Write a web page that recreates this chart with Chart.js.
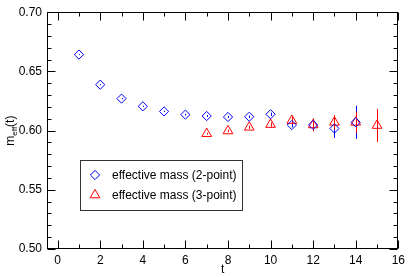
<!DOCTYPE html>
<html>
<head>
<meta charset="utf-8">
<script src="https://cdn.jsdelivr.net/npm/chart.js@4/dist/chart.umd.min.js"></script>
<style>
html,body{margin:0;padding:0;background:#fff;}
canvas{display:block;}
</style>
</head>
<body>
<canvas id="c" width="409" height="277"></canvas>
<script>
// ---- data ----
const t2 = [1, 2, 3, 4, 5, 6, 7, 8, 9, 10, 11, 12, 13, 14];
const m2 = [0.6642, 0.6388, 0.6270, 0.6205, 0.6162, 0.6135, 0.6123, 0.6115, 0.6117, 0.6138, 0.6047, 0.6048, 0.6018, 0.6070];
const e2 = [0.0004, 0.0004, 0.0005, 0.0005, 0.0006, 0.0007, 0.0008, 0.0009, 0.0011, 0.0014, 0.0020, 0.0050, 0.0080, 0.0140];
const t3 = [7, 8, 9, 10, 11, 12, 13, 14, 15];
const m3 = [0.5974, 0.5997, 0.6028, 0.6051, 0.6085, 0.6048, 0.6070, 0.6070, 0.6043];
const e3 = [0.0008, 0.0010, 0.0014, 0.0018, 0.0030, 0.0055, 0.0060, 0.0090, 0.0140];
const label2 = 'effective mass (2-point)';
const label3 = 'effective mass (3-point)';
const xTicks = [0, 2, 4, 6, 8, 10, 12, 14, 16];
const yTicks = [0.50, 0.55, 0.60, 0.65, 0.70];

const BLUE = '#0000ff';
const RED = '#ff0000';
const FONT = 'Liberation Sans, Arial, Helvetica, sans-serif';

function pts(xs, ys, es) { return xs.map((x, i) => ({x: x, y: ys[i], e: es[i]})); }

const frameTicks = {
  id: 'frameTicks',
  afterDatasetsDraw(chart) {
    const {ctx, chartArea: a, scales: {x, y}} = chart;
    ctx.save();
    ctx.strokeStyle = '#000';
    ctx.lineWidth = 1;
    const L = Math.round(a.left) + 0.5, R = Math.round(a.right) - 0.5;
    const T = Math.round(a.top) + 0.5, B = Math.round(a.bottom) - 0.5;
    ctx.strokeRect(L, T, R - L, B - T);
    ctx.beginPath();
    for (let v = 0; v <= 16; v += 1) {
      const px = Math.round(x.getPixelForValue(v)) + 0.5;
      const len = (v % 2 === 0) ? 8 : 4;
      ctx.moveTo(px, B); ctx.lineTo(px, B - len);
      ctx.moveTo(px, T); ctx.lineTo(px, T + len);
    }
    for (let k = 0; k <= 20; k++) {
      const v = 0.5 + k * 0.01;
      const py = Math.round(y.getPixelForValue(v)) + 0.5;
      const len = (k % 5 === 0) ? 8 : 4;
      ctx.moveTo(L, py); ctx.lineTo(L + len, py);
      ctx.moveTo(R, py); ctx.lineTo(R - len, py);
    }
    ctx.stroke();
    ctx.restore();
  }
};

const errorBars = {
  id: 'errorBars',
  beforeDatasetsDraw(chart) {
    const {ctx, chartArea: a, scales: {x, y}} = chart;
    ctx.save();
    ctx.beginPath();
    ctx.rect(a.left, a.top, a.right - a.left, a.bottom - a.top);
    ctx.clip();
    ctx.lineWidth = 1;
    chart.data.datasets.forEach((ds) => {
      ctx.strokeStyle = ds.borderColor;
      ctx.beginPath();
      ds.data.forEach((p) => {
        const px = Math.round(x.getPixelForValue(p.x)) + 0.5;
        ctx.moveTo(px, y.getPixelForValue(p.y + p.e));
        ctx.lineTo(px, y.getPixelForValue(p.y - p.e));
      });
      ctx.stroke();
    });
    ctx.restore();
  }
};

const yTitle = {
  id: 'yTitle',
  afterDraw(chart) {
    const {ctx, chartArea: a} = chart;
    ctx.save();
    ctx.fillStyle = '#000';
    ctx.translate(14, (a.top + a.bottom) / 2);
    ctx.rotate(-Math.PI / 2);
    ctx.textBaseline = 'alphabetic';
    const big = '12px ' + FONT, small = '8px ' + FONT;
    ctx.font = big; const w1 = ctx.measureText('m').width, w3 = ctx.measureText('(t)').width;
    ctx.font = small; const w2 = ctx.measureText('eff').width;
    let xx = -(w1 + w2 + w3) / 2;
    ctx.font = big; ctx.fillText('m', xx, 0); xx += w1;
    ctx.font = small; ctx.fillText('eff', xx, 3); xx += w2;
    ctx.font = big; ctx.fillText('(t)', xx, 0);
    ctx.restore();
  }
};

const boxLegend = {
  id: 'boxLegend',
  afterDraw(chart) {
    const {ctx} = chart;
    ctx.save();
    ctx.fillStyle = '#fff';
    ctx.fillRect(80, 160, 163, 51);
    ctx.strokeStyle = '#333';
    ctx.lineWidth = 1;
    ctx.strokeRect(80.5, 160.5, 162, 50);
    ctx.font = '12px ' + FONT;
    ctx.textBaseline = 'middle';
    chart.data.datasets.forEach((ds, i) => {
      const yy = 175 + i * 20;
      ctx.strokeStyle = ds.borderColor;
      ctx.fillStyle = 'rgba(0,0,0,0)';
      ctx.lineWidth = 1;
      Chart.helpers.drawPoint(ctx, {pointStyle: ds.pointStyle, radius: ds.pointRadius, borderWidth: 1}, 95, yy);
      ctx.fillStyle = '#000';
      ctx.fillText(ds.label, 112, yy + 0.5);
    });
    ctx.restore();
  }
};

new Chart(document.getElementById('c'), {
  type: 'scatter',
  data: {
    datasets: [
      {label: label2, data: pts(t2, m2, e2), pointStyle: 'rectRot', pointRadius: 4.6, borderColor: BLUE, backgroundColor: 'rgba(0,0,0,0)', borderWidth: 1, showLine: false},
      {label: label3, data: pts(t3, m3, e3), pointStyle: 'triangle', pointRadius: 5.6, borderColor: RED, backgroundColor: 'rgba(0,0,0,0)', borderWidth: 1, showLine: false}
    ]
  },
  options: {
    responsive: false,
    animation: false,
    devicePixelRatio: 1,
    layout: {padding: {top: 6, right: 8, left: 0, bottom: 0}},
    plugins: {legend: {display: false}, tooltip: {enabled: false}},
    elements: {point: {hoverRadius: 5}},
    scales: {
      x: {
        type: 'linear', min: -0.5, max: 16,
        grid: {display: false, drawTicks: false},
        border: {display: false},
        afterBuildTicks: (s) => { s.ticks = xTicks.map(v => ({value: v})); },
        afterFit: (s) => { s.height = 28; },
        ticks: {color: '#000', padding: 4, font: {family: FONT, size: 12}, callback: (v) => String(v)},
        title: {display: true, text: 't', color: '#000', font: {family: FONT, size: 12}, padding: {top: 0, bottom: 0}}
      },
      y: {
        type: 'linear', min: 0.5, max: 0.7,
        grid: {display: false, drawTicks: false},
        border: {display: false},
        afterBuildTicks: (s) => { s.ticks = yTicks.map(v => ({value: v})); },
        afterFit: (s) => { s.width = 47; },
        ticks: {color: '#000', padding: 5, font: {family: FONT, size: 12}, callback: (v) => Number(v).toFixed(2)}
      }
    }
  },
  plugins: [errorBars, frameTicks, yTitle, boxLegend]
});
</script>
</body>
</html>
